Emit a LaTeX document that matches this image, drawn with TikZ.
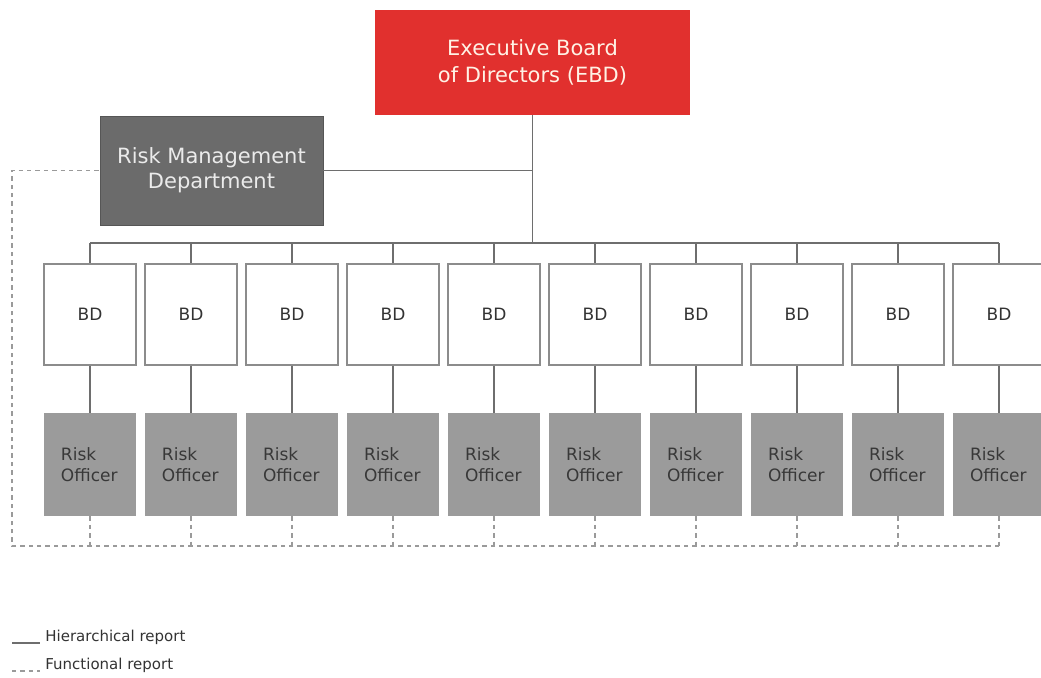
\documentclass[tikz,border=0pt]{standalone}
\usepackage{fontspec}
\setmainfont{DejaVu Sans}
\usepackage{tikz}
\usetikzlibrary{positioning}
\definecolor{ebdred}{HTML}{E1302E}
\definecolor{rmdgray}{HTML}{6B6B6B}
\definecolor{rogray}{HTML}{9B9B9B}
\definecolor{linegray}{HTML}{6E6E6E}
\definecolor{dashgray}{HTML}{9A9A9A}
\tikzstyle{ebdbox} = [fill=ebdred, text=white!90!orange, minimum width=157.5pt, minimum height=52.5pt, inner sep=0pt, align=center, font=\fontsize{10.5}{13.5}\selectfont]
\tikzstyle{rmdbox} = [fill=rmdgray, draw=rmdgray!80!black, text=white!92!black, minimum width=111.5pt, minimum height=54.5pt, inner sep=0pt, align=center, font=\fontsize{10.5}{12.5}\selectfont]
\tikzstyle{bdbox} = [draw=black!45, fill=white, line width=0.6pt, minimum width=46pt, minimum height=50.5pt, inner sep=0pt, text=black!80, font=\fontsize{8.5}{10}\selectfont]
\tikzstyle{robox} = [fill=rogray, minimum height=51.5pt, inner xsep=8.5pt, inner ysep=0pt, text width=29pt, align=left, text=black!78, font=\fontsize{8.5}{10.5}\selectfont]
\tikzstyle{hier} = [linegray, line width=0.6pt]
\tikzstyle{func} = [dashgray, line width=0.6pt, dash pattern=on 2.2pt off 2pt]
\tikzstyle{legend} = [anchor=west, inner sep=0pt, text=black!80, font=\fontsize{7.5}{9}\selectfont]

\begin{document}
\begin{tikzpicture}[x=0.5pt, y=-0.5pt]
\useasboundingbox (0,0) rectangle (1041,677);
\clip (0,0) rectangle (1041,677);

\node (ebd) [ebdbox] at (532.5,62.5) {Executive Board\\of Directors (EBD)};
\node (rmd) [rmdbox] at (211.5,170.5) {Risk Management\\Department};

\coordinate (bus) at (532.5,243);
\coordinate (fb) at (12,546);

\foreach \i in {1,...,10} {
  \node (bd\i) [bdbox] at ({90+101*(\i-1)},314.5) {BD};
  \node (ro\i) [robox] at ({90+101*(\i-1)},464.5) {Risk\\Officer};
}

% hierarchical lines
\draw [hier] (ebd.south) -- (bus);
\draw [hier] (rmd.east) -- (rmd.east -| ebd.south);
\draw [hier] (bd1.north |- bus) -- (bd10.north |- bus);
\foreach \i in {1,...,10} {
  \draw [hier] (bd\i.north |- bus) -- (bd\i.north);
  \draw [hier] (bd\i.south) -- (ro\i.north);
}

% functional lines
\foreach \i in {1,...,10} {
  \draw [func] (ro\i.south) -- (ro\i.south |- fb);
}
\draw [func] (ro10.south |- fb) -- (fb) -- (fb |- rmd.west) -- (rmd.west);

% legend
\coordinate (l1a) at (12,643);
\coordinate (l1b) at (40,643);
\coordinate (l2a) at (12,671);
\coordinate (l2b) at (40,671);
\draw [hier] (l1a) -- (l1b);
\draw [func] (l2a) -- (l2b);
\node (hrep) [legend] at (45,637) {Hierarchical report};
\node (frep) [legend] at (45,665) {Functional report};
\end{tikzpicture}
\end{document}
